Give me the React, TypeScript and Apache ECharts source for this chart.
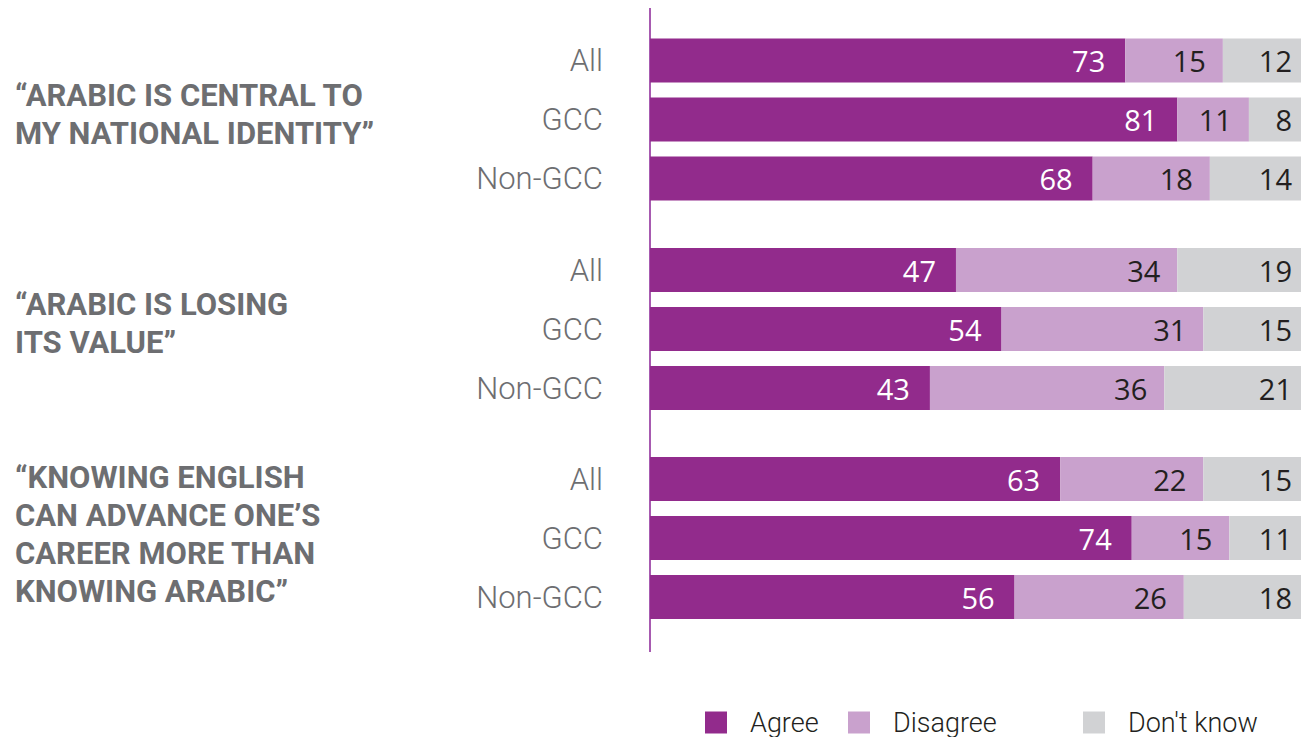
import React, { useEffect, useRef } from "react";
import * as echarts from "echarts";

const groups = ["All", "GCC", "Non-GCC"];
const statements = [
  ["“ARABIC IS CENTRAL TO", "MY NATIONAL IDENTITY”"],
  ["“ARABIC IS LOSING", "ITS VALUE”"],
  ["“KNOWING ENGLISH", "CAN ADVANCE ONE’S", "CAREER MORE THAN", "KNOWING ARABIC”"],
];
const seriesNames = ["Agree", "Disagree", "Don't know"];
const agree = [
  [73, 81, 68],
  [47, 54, 43],
  [63, 74, 56],
];
const disagree = [
  [15, 11, 18],
  [34, 31, 36],
  [22, 15, 26],
];
const dontKnow = [
  [12, 8, 14],
  [19, 15, 21],
  [15, 11, 18],
];

const COLORS = ["#922b8c", "#c9a1cd", "#d1d2d4"];
const LABEL_COLORS = ["#ffffff", "#231f20", "#231f20"];
const LABEL_DIST = [20, 17, 9];

export default function App() {
  const ref = useRef<HTMLDivElement>(null);
  useEffect(() => {
    if (!ref.current) return;
    const chart = echarts.init(ref.current, undefined, { renderer: "svg" });
    const gridTops = [31, 240.5, 449.5];
    const grids = gridTops.map((t) => ({ left: 650, right: 0, top: t, height: 177, containLabel: false }));
    const xAxes = gridTops.map((_, i) => ({
      type: "value",
      gridIndex: i,
      min: 0,
      max: 100,
      show: false,
    }));
    const yAxes = gridTops.map((_, i) => ({
      type: "category",
      gridIndex: i,
      data: groups,
      inverse: true,
      axisLine: { show: false },
      axisTick: { show: false },
      axisLabel: {
        margin: 47,
        fontSize: 31,
        color: "#6d6e71",
        fontFamily: "Roboto",
        fontWeight: 300,
      },
    }));
    const dataSets = [agree, disagree, dontKnow];
    const series: any[] = [];
    gridTops.forEach((_, g) => {
      dataSets.forEach((ds, s) => {
        series.push({
          type: "bar",
          name: seriesNames[s],
          xAxisIndex: g,
          yAxisIndex: g,
          stack: "total" + g,
          barWidth: 44,
          data: ds[g],
          itemStyle: { color: COLORS[s] },
          label: {
            show: true,
            position: "insideRight",
            distance: LABEL_DIST[s],
            color: LABEL_COLORS[s],
            fontSize: 29,
            fontFamily: "Open Sans",
          },
        });
      });
    });
    const titleTops = [95, 304, 477];
    const graphics: any[] = [];
    statements.forEach((lines, i) => {
      lines.forEach((line, j) => {
        graphics.push({
          type: "text",
          left: 15,
          top: titleTops[i] + j * 38 - 15,
          style: {
            text: line,
            fontSize: 31,
            fontWeight: "bold",
            fontFamily: "Roboto",
            fill: "#6d6e71",
          },
        });
      });
    });
    graphics.push({
      type: "line",
      shape: { x1: 650, y1: 8, x2: 650, y2: 652 },
      style: { stroke: "#a75ab0", lineWidth: 2 },
    });
    const legendLefts = [705, 848, 1083];
    const legends = seriesNames.map((n, i) => ({
      data: [n],
      left: legendLefts[i],
      top: 709,
      padding: 0,
      icon: "rect",
      itemWidth: 22,
      itemHeight: 22,
      itemGap: 0,
      selectedMode: false,
      textStyle: {
        fontSize: 27,
        color: "#231f20",
        fontFamily: "Roboto",
        fontWeight: 300,
        padding: [0, 0, 0, 18],
      },
    }));
    chart.setOption({
      animation: false,
      grid: grids,
      xAxis: xAxes,
      yAxis: yAxes,
      series,
      legend: legends,
      graphic: graphics,
    });
    return () => chart.dispose();
  }, []);
  return <div ref={ref} style={{ width: 1301, height: 737, position: "absolute", left: 0, top: 0 }} />;
}
